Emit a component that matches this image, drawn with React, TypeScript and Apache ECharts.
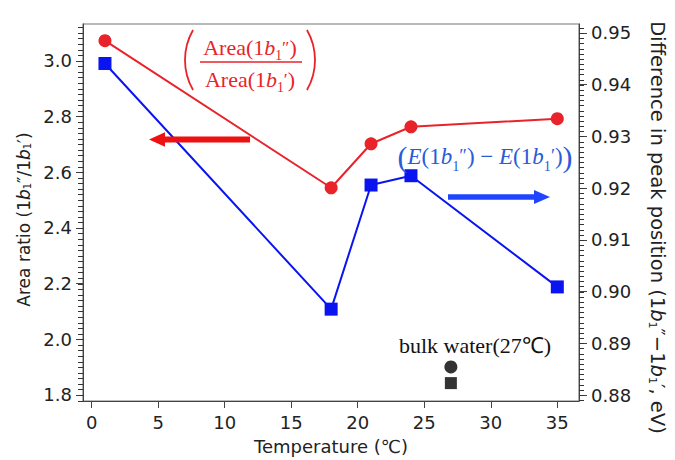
import React, { useEffect, useRef } from "react";
import * as echarts from "echarts";

// ---- data ----
const xTicks = [0, 5, 10, 15, 20, 25, 30, 35];
const leftTicks = [1.8, 2.0, 2.2, 2.4, 2.6, 2.8, 3.0];
const rightTicks = [0.88, 0.89, 0.9, 0.91, 0.92, 0.93, 0.94, 0.95];
const temperatures = [1, 18, 21, 24, 35];
const areaRatio = [3.072, 2.544, 2.702, 2.763, 2.792];
const peakDiff = [0.9441, 0.8966, 0.9206, 0.9224, 0.9009];
const bulkTemperature = [27];
const bulkAreaRatio = [1.9005];
const bulkPeakDiff = [0.8823];

const X_MIN = -0.651;
const X_MAX = 36.63;
const L_MIN = 1.7784;
const L_MAX = 3.132;
const R_MIN = 0.87884;
const R_MAX = 0.95174;

const RED = "#e8232a";
const BLUE = "#0a14f0";
const TEXT_BLUE = "#2a5bd8";
const SANS = "DejaVu Sans";
const SERIF = "Liberation Serif";

function minorValues(start: number, end: number, step: number, digits: number) {
  const out: number[] = [];
  const n = Math.round((end - start) / step);
  for (let i = 0; i <= n; i++) out.push(Number((start + i * step).toFixed(digits)));
  return out;
}

export default function App() {
  const ref = useRef<HTMLDivElement>(null);
  useEffect(() => {
    document.body.style.margin = "0";
    const chart = echarts.init(ref.current!, null, { renderer: "svg" });
    const axisLineStyle = { color: "#444", width: 1 };
    const mathRich = (color: string, size: number) => ({
      n: { fontFamily: SERIF, fontSize: size, color },
      i: { fontFamily: SERIF, fontSize: size, fontStyle: "italic", color },
      s: { fontFamily: SERIF, fontSize: size * 0.62, color, verticalAlign: "bottom", lineHeight: size * 1.45 },
      p: { fontFamily: SERIF, fontSize: size * 0.8, color, verticalAlign: "middle" },
      P: { fontFamily: SERIF, fontSize: size * 1.3, color },
    });

    const annotations: any[] = [
      {
        type: "arc",
        shape: { cx: 245, cy: 60, r: 60, startAngle: (150 * Math.PI) / 180, endAngle: (210 * Math.PI) / 180 },
        style: { stroke: RED, lineWidth: 1.8, fill: "none" },
        z: 100,
      },
      {
        type: "arc",
        shape: { cx: 255, cy: 60, r: 60, startAngle: (-30 * Math.PI) / 180, endAngle: (30 * Math.PI) / 180 },
        style: { stroke: RED, lineWidth: 1.8, fill: "none" },
        z: 100,
      },
      {
        type: "text",
        x: 250,
        y: 47,
        z: 100,
        style: {
          text: "{n|Area(1}{i|b}{s|1}{p|″}{n|)}",
          rich: mathRich(RED, 22),
          align: "center",
          verticalAlign: "middle",
          fill: RED,
        },
      },
      {
        type: "line",
        z: 100,
        shape: { x1: 200, y1: 62, x2: 302, y2: 62 },
        style: { stroke: RED, lineWidth: 1.5 },
      },
      {
        type: "text",
        x: 250,
        y: 79,
        z: 100,
        style: {
          text: "{n|Area(1}{i|b}{s|1}{p|′}{n|)}",
          rich: mathRich(RED, 22),
          align: "center",
          verticalAlign: "middle",
          fill: RED,
        },
      },
      {
        type: "polygon",
        z: 100,
        shape: {
          points: [
            [250, 136.5],
            [165, 136.5],
            [165, 132.3],
            [149, 139.5],
            [165, 146.7],
            [165, 142.5],
            [250, 142.5],
          ],
        },
        style: { fill: "#ee1111" },
      },
      {
        type: "text",
        x: 485,
        y: 156,
        z: 100,
        style: {
          text: "{P|(}{i|E}{n|(1}{i|b}{s|1}{p|″}{n|) − }{i|E}{n|(1}{i|b}{s|1}{p|′}{n|)}{P|)}",
          rich: mathRich(TEXT_BLUE, 23),
          align: "center",
          verticalAlign: "middle",
          fill: TEXT_BLUE,
        },
      },
      {
        type: "polygon",
        z: 100,
        shape: {
          points: [
            [448, 194.2],
            [534, 194.2],
            [534, 190],
            [550, 197],
            [534, 204],
            [534, 199.8],
            [448, 199.8],
          ],
        },
        style: { fill: "#1f45ff" },
      },
      {
        type: "text",
        x: 475,
        y: 345,
        z: 100,
        style: {
          text: "bulk water(27℃)",
          fontFamily: SERIF,
          fontSize: 22,
          align: "center",
          verticalAlign: "middle",
          fill: "#111",
        },
      },
    ];

    chart.setOption({
      animation: false,
      backgroundColor: "#fff",
      grid: {
        left: 83,
        right: 94,
        top: 24,
        bottom: 59,
        show: true,
        borderColor: "#777",
        borderWidth: 1.2,
        containLabel: false,
      },
      xAxis: {
        type: "value",
        min: X_MIN,
        max: X_MAX,
        name: "Temperature (℃)",
        nameLocation: "middle",
        nameGap: 36,
        nameTextStyle: { fontFamily: SANS, fontSize: 18, color: "#222" },
        axisLine: { show: true, onZero: false, lineStyle: axisLineStyle },
        axisTick: { show: true, length: 7, customValues: xTicks, lineStyle: axisLineStyle },
        axisLabel: {
          customValues: xTicks,
          margin: 12,
          fontFamily: SANS,
          fontSize: 18,
          color: "#222",
        },
        splitLine: { show: false },
      },
      yAxis: [
        {
          type: "value",
          position: "left",
          min: L_MIN,
          max: L_MAX,
          name: "Area ratio (1{i|b}{s|1}″/1{i|b}{s|1}′)",
          nameLocation: "middle",
          nameRotate: 90,
          nameGap: 50,
          nameTextStyle: {
            fontFamily: SANS,
            fontSize: 17,
            color: "#222",
            padding: [0, 14, 0, 0],
            rich: {
              i: { fontFamily: SANS, fontSize: 17, fontStyle: "italic", color: "#222" },
              s: { fontFamily: SANS, fontSize: 10, color: "#222", verticalAlign: "bottom" },
            },
          },
          axisLine: { show: true, onZero: false, lineStyle: axisLineStyle },
          axisTick: { show: true, length: 7, customValues: leftTicks, lineStyle: axisLineStyle },
          axisLabel: {
            customValues: leftTicks,
            margin: 11,
            fontFamily: SANS,
            fontSize: 18,
            color: "#222",
            formatter: (v: number) => v.toFixed(1),
          },
          splitLine: { show: false },
        },
        {
          type: "value",
          position: "right",
          min: R_MIN,
          max: R_MAX,
          name: "Difference in peak position (1{i|b}{s|1}″−1{i|b}{s|1}′, eV)",
          nameLocation: "middle",
          nameRotate: -90,
          nameGap: 68,
          nameTextStyle: {
            fontFamily: SANS,
            fontSize: 19.5,
            color: "#222",
            padding: [0, 0, 0, 30],
            rich: {
              i: { fontFamily: SANS, fontSize: 19.5, fontStyle: "italic", color: "#222" },
              s: { fontFamily: SANS, fontSize: 11, color: "#222", verticalAlign: "bottom" },
            },
          },
          axisLine: { show: true, onZero: false, lineStyle: axisLineStyle },
          axisTick: { show: true, length: 8, customValues: rightTicks, lineStyle: axisLineStyle },
          axisLabel: {
            customValues: rightTicks,
            margin: 12,
            fontFamily: SANS,
            fontSize: 18,
            color: "#222",
            formatter: (v: number) => v.toFixed(2),
          },
          splitLine: { show: false },
        },
      ],
      series: [
        {
          name: "Area ratio",
          type: "line",
          yAxisIndex: 0,
          data: temperatures.map((t, i) => [t, areaRatio[i]]),
          symbol: "circle",
          symbolSize: 13,
          lineStyle: { color: RED, width: 2 },
          itemStyle: { color: RED },
        },
        {
          name: "Peak difference",
          type: "line",
          yAxisIndex: 1,
          data: temperatures.map((t, i) => [t, peakDiff[i]]),
          symbol: "rect",
          symbolSize: 13,
          lineStyle: { color: BLUE, width: 2 },
          itemStyle: { color: BLUE },
        },
        {
          name: "bulk area ratio",
          type: "scatter",
          yAxisIndex: 0,
          data: bulkTemperature.map((t, i) => [t, bulkAreaRatio[i]]),
          symbol: "circle",
          symbolSize: 13,
          itemStyle: { color: "#000" },
        },
        {
          name: "bulk peak difference",
          type: "scatter",
          yAxisIndex: 1,
          data: bulkTemperature.map((t, i) => [t, bulkPeakDiff[i]]),
          symbol: "rect",
          symbolSize: 12,
          itemStyle: { color: "#000" },
        },
      ],
      graphic: annotations,
    });

    // minor ticks, positioned through each axis' own scale
    const leftMinor = minorValues(1.78, 3.12, 0.02, 2);
    const rightMinor = minorValues(0.879, 0.951, 0.001, 3);
    const xLeft = Number(chart.convertToPixel({ xAxisIndex: 0 }, X_MIN));
    const xRight = Number(chart.convertToPixel({ xAxisIndex: 0 }, X_MAX));
    const tickRects: any[] = [];
    leftMinor.forEach((v) => {
      const y = Number(chart.convertToPixel({ yAxisIndex: 0 }, v));
      if (!isFinite(y) || !isFinite(xLeft)) return;
      tickRects.push({
        type: "rect",
        z: 60,
        silent: true,
        shape: { x: Math.round(xLeft) - 5, y: Math.round(y), width: 5, height: 1 },
        style: { fill: "#333" },
      });
    });
    rightMinor.forEach((v) => {
      const y = Number(chart.convertToPixel({ yAxisIndex: 1 }, v));
      if (!isFinite(y) || !isFinite(xRight)) return;
      tickRects.push({
        type: "rect",
        z: 60,
        silent: true,
        shape: { x: Math.round(xRight), y: Math.round(y), width: 5, height: 1 },
        style: { fill: "#333" },
      });
    });
    chart.setOption({ graphic: [...annotations, ...tickRects] });

    return () => chart.dispose();
  }, []);
  return <div ref={ref} style={{ width: 675, height: 460 }} />;
}
